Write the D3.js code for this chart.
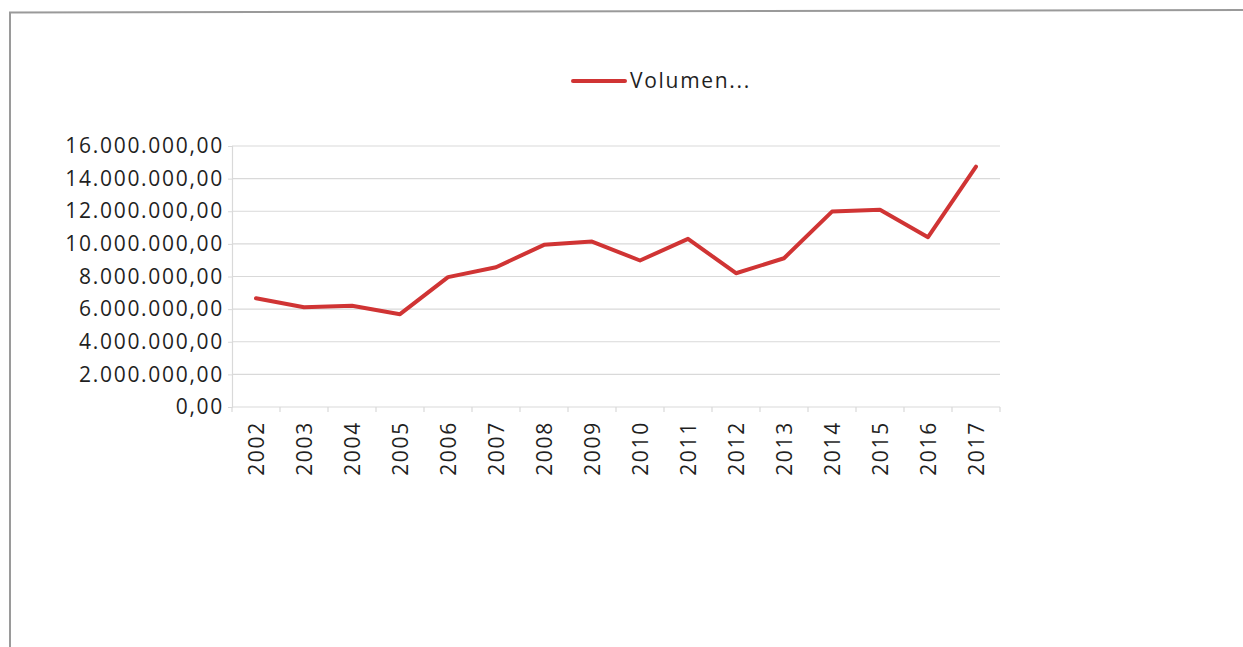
<!DOCTYPE html>
<html>
<head>
<meta charset="utf-8">
<script src="https://cdn.jsdelivr.net/npm/d3@7"></script>
<style>
  html, body { margin: 0; padding: 0; background: #fff; }
  svg { display: block; }
</style>
</head>
<body>
<svg id="chart" width="1243" height="647"></svg>
<script>
// Annual volume, 2002–2017
const years = ["2002","2003","2004","2005","2006","2007","2008","2009",
               "2010","2011","2012","2013","2014","2015","2016","2017"];
const volumen = [6670000, 6120000, 6210000, 5690000, 7960000, 8570000, 9940000, 10140000,
                 8980000, 10310000, 8200000, 9120000, 11980000, 12090000, 10410000, 14740000];
const yTicks = [0, 2000000, 4000000, 6000000, 8000000, 10000000, 12000000, 14000000, 16000000];
const seriesName = "Volumen...";

const W = 1243, H = 647;
const margin = { left: 232, right: 243, top: 146, bottom: 240 };
const font = "'Open Sans', 'Liberation Sans', sans-serif";
const fontSize = 21;
const spacing = 1.7;
const textColor = "#1f1f1f";
const lineColor = "#d03434";
const gridColor = "#d9d9d9";

const svg = d3.select("#chart");

// outer chart frame (top and left edges)
svg.append("path")
  .attr("d", `M10,${H} L10,12.5 L${W},10`)
  .attr("fill", "none")
  .attr("stroke", "#9a9a9a")
  .attr("stroke-width", 2);

const x = d3.scaleBand()
  .domain(years)
  .range([margin.left, W - margin.right]);

const y = d3.scaleLinear()
  .domain([0, 16000000])
  .range([H - margin.bottom, margin.top]);

// horizontal gridlines
svg.append("g")
  .selectAll("line")
  .data(yTicks.filter(d => d > 0))
  .join("line")
  .attr("x1", margin.left)
  .attr("x2", W - margin.right)
  .attr("y1", d => y(d))
  .attr("y2", d => y(d))
  .attr("stroke", gridColor)
  .attr("stroke-width", 1.2);

const fmt = v => {
  const s = d3.format(",.2f")(v);
  return s.replace(/,/g, "#").replace(/\./g, ",").replace(/#/g, ".");
};

// y axis
const yAxis = svg.append("g")
  .attr("transform", `translate(${margin.left},0)`)
  .call(d3.axisLeft(y).tickValues(yTicks).tickFormat(fmt).tickSize(4).tickPadding(4));
yAxis.select(".domain").attr("stroke", gridColor).attr("stroke-width", 1.2);
yAxis.selectAll(".tick line").attr("stroke", gridColor);
yAxis.selectAll("text")
  .attr("font-family", font)
  .attr("font-size", fontSize)
  .attr("letter-spacing", spacing)
  .attr("fill", textColor);

// x axis with ticks between categories
const xAxisG = svg.append("g")
  .attr("transform", `translate(0,${y(0)})`);
xAxisG.append("line")
  .attr("x1", margin.left).attr("x2", W - margin.right)
  .attr("y1", 0).attr("y2", 0)
  .attr("stroke", gridColor).attr("stroke-width", 1.2);
const bounds = years.map(d => x(d)).concat([x(years[years.length - 1]) + x.bandwidth()]);
xAxisG.selectAll("line.tk")
  .data(bounds)
  .join("line")
  .attr("class", "tk")
  .attr("x1", d => d).attr("x2", d => d)
  .attr("y1", 0).attr("y2", 5)
  .attr("stroke", gridColor).attr("stroke-width", 1.2);
xAxisG.selectAll("text")
  .data(years)
  .join("text")
  .attr("transform", d => `translate(${x(d) + x.bandwidth() / 2 + 1},14) rotate(-90)`)
  .attr("text-anchor", "end")
  .attr("dy", "0.35em")
  .attr("font-family", font)
  .attr("font-size", fontSize)
  .attr("letter-spacing", spacing)
  .attr("fill", textColor)
  .text(d => d);

// data line
const line = d3.line()
  .x((d, i) => x(years[i]) + x.bandwidth() / 2)
  .y(d => y(d));
svg.append("path")
  .datum(volumen)
  .attr("d", line)
  .attr("fill", "none")
  .attr("stroke", lineColor)
  .attr("stroke-width", 4)
  .attr("stroke-linejoin", "round")
  .attr("stroke-linecap", "round");

// legend
const lg = svg.append("g").attr("transform", "translate(573,81)");
lg.append("line")
  .attr("x1", 0).attr("x2", 52)
  .attr("y1", 0).attr("y2", 0)
  .attr("stroke", lineColor)
  .attr("stroke-width", 4)
  .attr("stroke-linecap", "round");
lg.append("text")
  .attr("x", 57)
  .attr("y", 0)
  .attr("dy", "0.35em")
  .attr("font-family", font)
  .attr("font-size", fontSize)
  .attr("letter-spacing", spacing)
  .attr("fill", textColor)
  .text(seriesName);
</script>
</body>
</html>
